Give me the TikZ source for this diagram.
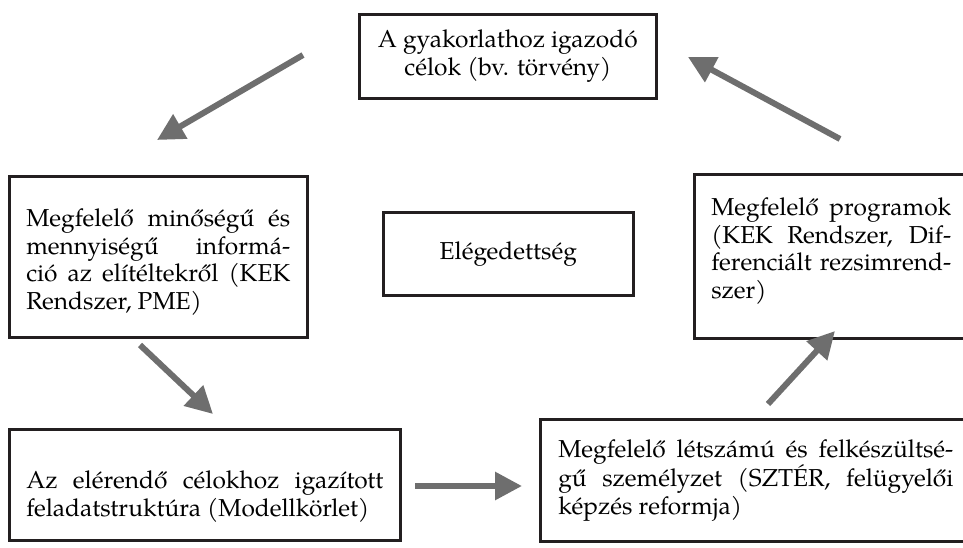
\documentclass[tikz,border=0pt]{standalone}
\usepackage{fontspec}
\setmainfont{TeX Gyre Pagella}
\usetikzlibrary{arrows.meta}

\definecolor{boxline}{RGB}{35,31,32}
\definecolor{arrowgray}{RGB}{110,110,110}
\tolerance=9999

\tikzset{
  textbox/.style={draw=boxline, line width=2.6pt, inner xsep=17pt, inner ysep=10pt,
    anchor=north west, align=justify, font=\fontsize{24.5}{27.5}\selectfont},
  cyclearrow/.style={draw=arrowgray, line width=6pt, -{Triangle[length=27pt,width=27pt]}}
}

\begin{document}
\begin{tikzpicture}[x=1pt,y=1pt,yscale=-1]
\clip (0,0) rectangle (963,548);

%Shape: Rectangle
\node [textbox, align=center, minimum width=297pt, minimum height=84pt] (celok) at (358,13)
  {A gyakorlathoz igazodó\\célok (bv. törvény)};
%Shape: Rectangle
\node [textbox, align=center, minimum width=250pt, minimum height=83pt] (eleg) at (382,211)
  {Elégedettség};
%Shape: Rectangle
\node [textbox, text width=264pt, minimum height=161pt] (info) at (8,175)
  {\rule{0pt}{28pt}Megfelelő minőségű és\linebreak mennyiségű informá-\linebreak ció az elítéltekről (KEK\linebreak Rendszer, PME)};
%Shape: Rectangle
\node [textbox, text width=240pt, minimum height=164pt] (prog) at (693,173)
  {Megfelelő programok\linebreak (KEK Rendszer, Dif-\linebreak ferenciált rezsimrend-\linebreak szer)\rule[-16pt]{0pt}{16pt}};
%Shape: Rectangle
\node [textbox, text width=357pt, minimum height=111pt] (feladat) at (8,428)
  {\rule{0pt}{41pt}Az elérendő célokhoz igazított\linebreak feladatstruktúra (Modellkörlet)};
%Shape: Rectangle
\node [textbox, inner xsep=18pt, inner ysep=20pt, text width=395pt] (szemely) at (539,418)
  {Megfelelő létszámú és felkészültsé-\linebreak gű személyzet (SZTÉR, felügyelői\linebreak képzés reformja)\par\vspace*{60pt}};

% arrow ends
\coordinate (a1s) at (303,55);  \coordinate (a1e) at (157,140);
\coordinate (a2s) at (140,345); \coordinate (a2e) at (213,414);
\coordinate (a3s) at (415,486); \coordinate (a3e) at (522,486);
\coordinate (a4s) at (768,404); \coordinate (a4e) at (835,331);
\coordinate (a5s) at (840,139); \coordinate (a5e) at (688,57);

%Straight Lines
\draw [cyclearrow] (a1s) -- (a1e);
\draw [cyclearrow] (a2s) -- (a2e);
\draw [cyclearrow] (a3s) -- (a3e);
\draw [cyclearrow] (a4s) -- (a4e);
\draw [cyclearrow] (a5s) -- (a5e);

\end{tikzpicture}
\end{document}
